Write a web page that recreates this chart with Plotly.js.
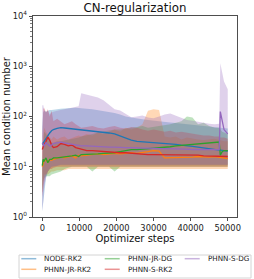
<!DOCTYPE html>
<html><head><meta charset="utf-8">
<script src="https://cdn.plot.ly/plotly-3.0.1.min.js"></script>
<style>html,body{margin:0;padding:0;background:#fff}#chart{width:254px;height:279px}</style>
</head><body><div id="chart"></div>
<script>
// ---------------- data ----------------
const steps = [0,250,500,1000,1500,2000,2500,3000,4000,5000,6000,7000,8000,9000,9800,10500,12000,13500,15000,16500,18000,19500,21000,22500,24000,25500,27000,28500,30000,31500,33000,34500,36000,37500,39000,40500,42000,43500,45000,46500,47700,48000,48500,49000,50000];

const seriesNames = ['NODE-RK2','PHNN-JR-RK2','PHNN-JR-DG','PHNN-S-RK2','PHNN-S-DG'];
const seriesColors = ['#1f77b4','#ff7f0e','#2ca02c','#d62728','#9467bd'];

const nodeRK2Mean = [28,30,33,38,42,47,52,55,58,60, 59,58,57,56,55,54,53,52,51,49, 47,45,41,37,34,32,31.5,31,30.5,30, 29,28.5,28,27,26.5,25.5,24.5,23.5,22.5,22, 21.5,21.5,21,21,20.5];
const nodeRK2Hi   = [60,120,130,125,130,135,135,138,140,142, 145,148,150,150,148,145,143,140,135,130, 125,118,110,100,95,90,88,85,82,80, 78,76,74,72,70,68,66,64,62,60, 60,60,58,58,58];
const nodeRK2Lo   = [1.3,1.6,3,6,8,9,10,10,10.5,11, 11,11,11,11,11,11,11,11,11,11, 11,11,11,11,11,11,11,11,11,11, 11,11,11,11,11,11,11,11,11,11, 11,11,11,11,11];

const jrRK2Mean = [10,11,13,14,12,14,13.5,14,15,15.5, 15,16,16.5,15,17,16.5,17,17.5,18,17.5, 18,18.5,18,18.5,19,18.5,19,20,21,20.5, 15,15,15.5,15,15.5,15.5,16,15.5,15.5,16, 15.5,15.5,15,15,14.5];
const jrRK2Hi   = [20,40,60,50,45,40,35,40,35,38, 40,35,38,40,42,40,45,42,48,45, 50,55,50,60,55,60,70,130,140,135, 40,38,40,35,38,36,35,34,35,36, 34,34,33,32,32];
const jrRK2Lo   = [3,5,7,7,7,7.5,8,8,8.5,8.5, 8.5,9,9,9,9,9,9,9,9,9, 9,9,9,9,9,9,9,9,9,9, 9,9,9,9,9,9,9,9,9,9, 9,9,9,9,9];

const jrDGMean = [10.5,14,13,15,12,14,14,15,15,15.5, 16,16,16.5,17,16,17.5,17.5,18,18,18.5, 18.5,19,20,21,22,22,22.5,23,23,23.5, 24,25,26,26.5,27,27.5,28,29,30,30.5, 31,17,20,21,21];
const jrDGHi   = [12,30,50,45,40,35,30,30,32,32, 33,35,35,36,38,40,42,45,48,50, 52,55,55,58,60,62,65,60,62,65, 68,70,75,80,100,95,70,75,65,60, 60,55,50,48,45];
const jrDGLo   = [3,5,6,6.5,6.5,6.5,7,7,7.5,8, 9,9.5,10,10,10,10,10,8,10,10, 10,8,10,10,10,10,10,10,10,10, 10,10,10,10,10,10,10,10,10,10, 10,10,10,10,10];

const sRK2Mean = [22,25,28,32,39,34,27,24,25,29, 28,26,27,24,23,22,21,21,20.5,20, 20,19.5,19,19,18.5,18,18,17.5,17.5,17.5, 17,17,17,17,17,17,17,16.5,16.5,16.5, 16.5,16.5,16,16,16];
const sRK2Hi   = [40,140,150,120,140,100,130,80,90,80, 70,75,80,70,65,60,62,65,60,58, 62,65,60,58,62,60,55,52,55,52, 50,52,48,50,48,45,44,42,42,40, 40,38,38,38,36];
const sRK2Lo   = [2.5,3,5,7,8,9,9,9.5,10,10, 10,10,10,10,10,10,10,10,10,10, 10,10,10,10,10,10,10,10,10,10, 10,10,10,10,10,10,10,10,10,10, 10,10,10,10,10];

const sDGMean = [30,28,26,30,28,26,27,29,30,31, 30,29,28,27,27,26,26,25.5,25,25, 24.5,24.5,24,24,24,23.5,23.5,23.5,23,23, 23,23,22.5,22.5,22.5,22,22,22,22,22, 22,125,75,55,45];
const sDGHi   = [165,170,140,120,130,110,120,125,130,135, 140,145,150,155,160,290,270,255,240,210, 170,140,132,115,97,100,105,95,92,100, 110,115,105,95,85,82,78,75,72,70, 72,1150,700,500,350];
const sDGLo   = [1.3,2,4,6,8,9,10,10,10.5,11, 11,11,11,11,11,11,11,11,11,11, 11,11,11,11,11,11,11,11,11,11, 11,11,11,11,11,11,11,11,11,11, 11,11,11,11,11];

const seriesMean = [nodeRK2Mean, jrRK2Mean, jrDGMean, sRK2Mean, sDGMean];
const seriesHi   = [nodeRK2Hi, jrRK2Hi, jrDGHi, sRK2Hi, sDGHi];
const seriesLo   = [nodeRK2Lo, jrRK2Lo, jrDGLo, sRK2Lo, sDGLo];

const xTickVals = [0,10000,20000,30000,40000,50000];
const xTickText = ['0','10000','20000','30000','40000','50000'];
const yTickVals = [1,10,100,1000,10000];
const yTickText = ['10<sup>0</sup>','10<sup>1</sup>','10<sup>2</sup>','10<sup>3</sup>','10<sup>4</sup>'];

// legend layout: [column, row] of each series (matplotlib column-major fill)
const legendCell = [[0,0],[0,1],[1,0],[1,1],[2,0]];

// ---------------- helpers ----------------
function rgba(hex, a){
  const n = parseInt(hex.slice(1),16);
  return 'rgba('+((n>>16)&255)+','+((n>>8)&255)+','+(n&255)+','+a+')';
}
const W = 254, H = 279;
const M = {l:33, r:17, t:16, b:62};
const PW = W - M.l - M.r, PH = H - M.t - M.b;
const px2x = p => (p - M.l) / PW;
const py2y = p => (H - M.b - p) / PH;

// ---------------- traces ----------------
const traces = [];
seriesNames.forEach((nm, i) => {
  traces.push({
    type:'scatter', mode:'lines',
    x: steps.concat(steps.slice().reverse()),
    y: seriesHi[i].concat(seriesLo[i].slice().reverse()),
    fill:'toself', fillcolor: rgba(seriesColors[i], 0.3),
    line:{width:0, color:'rgba(0,0,0,0)'},
    hoverinfo:'skip', showlegend:false, name: nm + ' band'
  });
});
seriesNames.forEach((nm, i) => {
  traces.push({
    type:'scatter', mode:'lines', x: steps, y: seriesMean[i],
    line:{color: seriesColors[i], width:1.3},
    name: nm, showlegend:false
  });
});

// minor log ticks
const minorVals = [];
for (let k = 0; k < 4; k++) for (let m = 2; m < 10; m++) minorVals.push(m * Math.pow(10, k));

// ---------------- custom legend (matplotlib style) ----------------
const legTextX = [42.3, 125.7, 205.7];
const legRowY = [258.7, 269.3];
const shapes = [{
  type:'rect', xref:'paper', yref:'paper',
  x0: px2x(19), x1: px2x(251), y0: py2y(255), y1: py2y(278),
  line:{color:'#d4d4d4', width:1}, fillcolor:'rgba(255,255,255,0.8)', layer:'above'
}];
const annotations = [];
seriesNames.forEach((nm, i) => {
  const c = legendCell[i][0], r = legendCell[i][1];
  const tx = legTextX[c], ty = legRowY[r];
  shapes.push({
    type:'line', xref:'paper', yref:'paper',
    x0: px2x(tx - 21), x1: px2x(tx - 6), y0: py2y(ty), y1: py2y(ty),
    line:{color: rgba(seriesColors[i], 0.5), width:1.5}, layer:'above'
  });
  annotations.push({
    xref:'paper', yref:'paper', x: px2x(tx), y: py2y(ty),
    xanchor:'left', yanchor:'middle', showarrow:false, text: nm,
    font:{family:'DejaVu Sans', size:7.2, color:'#222'}
  });
});

const axisCommon = {
  showline:true, mirror:true, linecolor:'#222', linewidth:0.8,
  ticks:'outside', ticklen:3.5, tickwidth:0.8, tickcolor:'#222',
  showgrid:false, zeroline:false,
  tickfont:{family:'DejaVu Sans', size:8.3, color:'#222'}
};

const layout = {
  width:W, height:H, margin:M,
  paper_bgcolor:'#fff', plot_bgcolor:'#fff',
  font:{family:'DejaVu Sans', color:'#111'},
  showlegend:false,
  title:{text:'CN-regularization', x:0.5, xref:'paper', xanchor:'center',
         y: 1 - 8.3/H, yref:'container', yanchor:'middle',
         font:{family:'DejaVu Sans', size:11.8, color:'#111'}},
  xaxis: Object.assign({}, axisCommon, {
    range:[-2500, 52500], tickmode:'array', tickvals:xTickVals, ticktext:xTickText,
    title:{text:'Optimizer steps', standoff:0, font:{family:'DejaVu Sans', size:10, color:'#111'}}
  }),
  yaxis: Object.assign({}, axisCommon, {
    type:'log', range:[0, 4], tickmode:'array', tickvals:yTickVals, ticktext:yTickText,
    minor:{tickmode:'array', tickvals:minorVals, ticks:'outside', ticklen:2, tickwidth:0.6, tickcolor:'#222', showgrid:false},
    title:{text:'Mean condition number', standoff:0, font:{family:'DejaVu Sans', size:10, color:'#111'}}
  }),
  shapes: shapes,
  annotations: annotations
};

Plotly.newPlot('chart', traces, layout, {staticPlot:true, displayModeBar:false});
</script>
</body></html>
